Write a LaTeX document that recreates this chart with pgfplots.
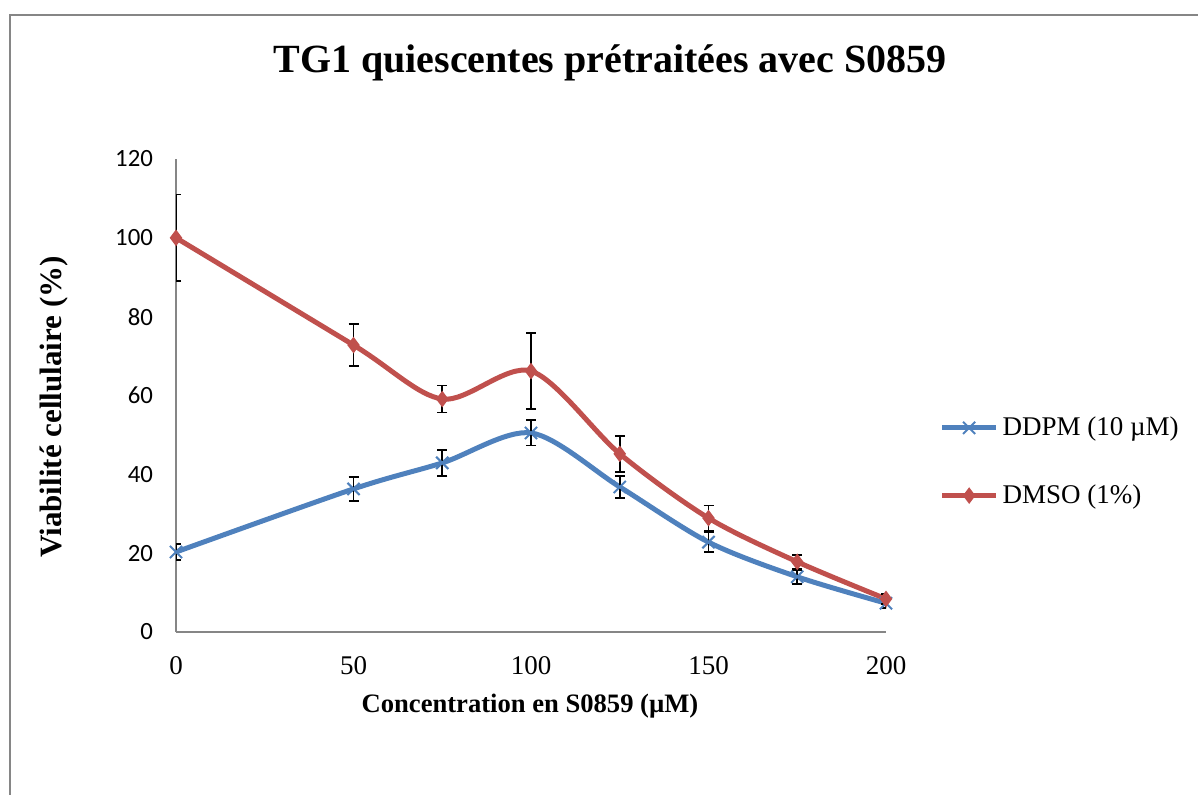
\documentclass[border=0pt]{standalone}
\usepackage{fontspec}
\setmainfont{Liberation Serif}
\newfontfamily\calibri{Carlito}
\usepackage{pgfplots}
\usepackage{pgfplotstable}
\pgfplotsset{compat=1.18}

\definecolor{ddpm}{HTML}{4F81BD}
\definecolor{dmso}{HTML}{C0504D}
\definecolor{axgray}{HTML}{868686}

% x = concentration, y = viabilite, e = erreur
\pgfplotstableread{
x   y     e
0   20.3  2.0
50  36.3  3.0
75  42.9  3.3
100 50.5  3.2
125 36.8  2.8
150 22.8  2.5
175 14.0  1.8
200 7.3   1.3
}\ddpmdata

\pgfplotstableread{
x   y     e
0   100.0 11.0
50  72.8  5.3
75  59.1  3.4
100 66.2  9.6
125 45.2  4.6
150 28.9  3.2
175 17.8  1.7
200 8.4   1.3
}\dmsodata

\pgfplotsset{
  errstyle/.style={
    draw=none, mark=none, forget plot,
    error bars/.cd, y dir=both, y explicit,
    error bar style={draw=black, line width=0.85pt, solid},
    error mark options={draw=black, rotate=90, mark size=2.5pt, line width=0.85pt},
  },
}

\begin{document}
\begin{tikzpicture}
\useasboundingbox (0,0) rectangle (599pt,-397.5pt);
\draw[axgray, line width=1pt] (4.75pt,-397.5pt) -- (4.75pt,-7.75pt) -- (599pt,-7.75pt);

\node[font=\bfseries\fontsize{20}{24}\selectfont, anchor=base] at (305pt,-36.5pt)
  {TG1 quiescentes prétraitées avec S0859};

\begin{axis}[
    at={(88pt,-316pt)}, anchor=south west,
    scale only axis,
    width=355pt, height=236.5pt,
    xmin=0, xmax=200, ymin=0, ymax=120,
    xtick={0,50,100,150,200},
    ytick={0,20,...,120},
    axis lines*=left,
    axis line style={axgray, line width=0.75pt, -},
    tick style={draw=none},
    major tick length=0pt,
    /pgf/number format/assume math mode=true,
    xticklabel style={font=\fontsize{13.5}{16}\selectfont, yshift=-8.5pt},
    yticklabel style={font=\calibri\fontsize{12.4}{15}\selectfont, xshift=-8pt},
    legend style={at={(1.075,0.36)}, anchor=west, draw=none, fill=none,
      font=\fontsize{13.5}{16}\selectfont, row sep=19pt, inner sep=0pt,
      /tikz/every even column/.append style={column sep=0pt}},
    legend cell align=left,
    legend image code/.code={
      \draw[mark repeat=2, mark phase=2] plot coordinates {(0pt,0pt) (13.5pt,0pt) (27pt,0pt)};
    },
]
\addplot[ddpm, line width=2.5pt, smooth, tension=0.5, mark=x,
  mark size=4.3pt, mark options={solid, line width=1pt}]
  table[x=x, y=y] {\ddpmdata};
\addlegendentry{DDPM (10 µM)}
\addplot[dmso, line width=2.5pt, smooth, tension=0.5, mark=diamond*,
  mark size=2.1pt, mark options={solid}]
  table[x=x, y=y] {\dmsodata};
\addlegendentry{DMSO (1\%)}

\addplot[errstyle] table[x=x, y=y, y error=e] {\ddpmdata};
\addplot[errstyle] table[x=x, y=y, y error=e] {\dmsodata};
\end{axis}

\node[font=\bfseries\fontsize{13.3}{16}\selectfont, anchor=base] at (265pt,-356pt)
  {Concentration en S0859 (µM)};
\node[font=\bfseries\fontsize{15.5}{18}\selectfont, anchor=base, rotate=90] at (30.5pt,-203.5pt)
  {Viabilité cellulaire (\%)};
\end{tikzpicture}
\end{document}
